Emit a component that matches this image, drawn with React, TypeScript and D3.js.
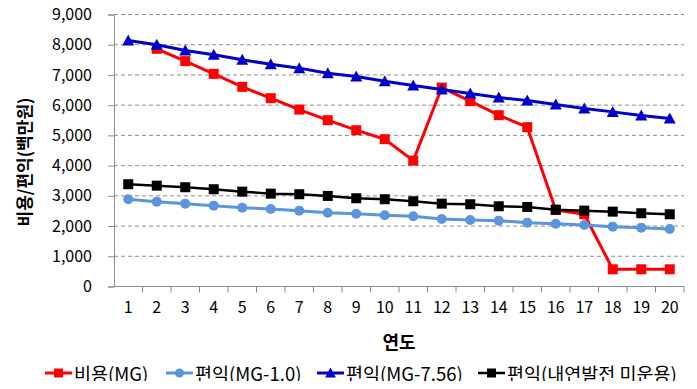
import { useEffect, useRef } from 'react';
import * as d3 from 'd3';

const years = d3.range(1, 21).map(String);
const yTicks = [0, 1000, 2000, 3000, 4000, 5000, 6000, 7000, 8000, 9000];

const costMG: (number | null)[] = [null, 7864, 7457, 7036, 6606, 6231, 5854, 5503, 5172, 4874, 4165, 6582, 6132, 5668, 5271, 2530, 2390, 570, 570, 570];
const benefitMG10 = [2887, 2808, 2742, 2675, 2609, 2566, 2510, 2443, 2410, 2357, 2324, 2235, 2202, 2179, 2113, 2079, 2036, 1980, 1947, 1904];
const benefitMG756 = [8138, 7996, 7807, 7665, 7500, 7357, 7225, 7059, 6946, 6794, 6648, 6516, 6384, 6251, 6152, 6019, 5887, 5778, 5655, 5556];
const benefitNoGen = [3384, 3337, 3285, 3218, 3139, 3073, 3053, 2997, 2920, 2887, 2821, 2742, 2722, 2655, 2632, 2543, 2510, 2477, 2424, 2390];

const series = [
  { name: '비용(MG)', values: costMG, color: '#ff0000', marker: 'square', width: 3 },
  { name: '편익(MG-1.0)', values: benefitMG10, color: '#5b95db', marker: 'circle', width: 3 },
  { name: '편익(MG-7.56)', values: benefitMG756, color: '#0000c8', marker: 'triangle', width: 3 },
  { name: '편익(내연발전 미운용)', values: benefitNoGen, color: '#000000', marker: 'square', width: 2.5 },
];

const legendX = [45, 166, 317, 478];

function App() {
  const svgRef = useRef<SVGSVGElement>(null);

  useEffect(() => {
    const width = 697;
    const height = 389;
    const margin = { top: 14.5, right: 13, bottom: 102.5, left: 114 };
    const font = '"Noto Sans CJK KR", "Noto Sans", sans-serif';

    const svg = d3.select(svgRef.current).attr('width', width).attr('height', height);
    svg.selectAll('*').remove();

    const x = d3.scaleBand().domain(years).range([margin.left, width - margin.right]);
    const y = d3.scaleLinear().domain([0, 9000]).range([height - margin.bottom, margin.top]);
    const cx = (d: string) => (x(d) as number) + x.bandwidth() / 2;

    // Grid
    svg.append('g')
      .selectAll('line')
      .data(yTicks.slice(1))
      .join('line')
      .attr('x1', margin.left)
      .attr('x2', width - margin.right)
      .attr('y1', d => y(d))
      .attr('y2', d => y(d))
      .attr('stroke', '#8c8c8c')
      .attr('stroke-width', 1)
      .attr('stroke-dasharray', '4,3');

    // Y axis
    const yAxis = svg.append('g')
      .attr('transform', `translate(${margin.left},0)`)
      .call(d3.axisLeft(y).tickValues(yTicks).tickSize(6).tickPadding(16).tickFormat(d3.format(',')));
    yAxis.selectAll('path, line').attr('stroke', '#8c8c8c');
    yAxis.selectAll('text')
      .attr('fill', '#000')
      .style('font-family', font)
      .style('font-size', '16px');

    // X axis
    const xAxis = svg.append('g')
      .attr('transform', `translate(0,${y(0)})`)
      .call(d3.axisBottom(x).tickSize(0).tickPadding(15));
    xAxis.select('path').attr('stroke', '#8c8c8c').attr('d', `M${margin.left},0H${width - margin.right}`);
    xAxis.selectAll('text')
      .attr('fill', '#000')
      .style('font-family', font)
      .style('font-size', '16px');
    xAxis.append('g')
      .selectAll('line')
      .data(years)
      .join('line')
      .attr('x1', d => (x(d) as number) + x.bandwidth())
      .attr('x2', d => (x(d) as number) + x.bandwidth())
      .attr('y1', 0)
      .attr('y2', 6)
      .attr('stroke', '#8c8c8c');

    // Axis titles
    svg.append('text')
      .attr('x', 399)
      .attr('y', 341)
      .attr('text-anchor', 'middle')
      .attr('dominant-baseline', 'central')
      .style('font-family', font)
      .style('font-size', '18px')
      .style('font-weight', 'bold')
      .text('연도');

    svg.append('text')
      .attr('transform', 'translate(23,162) rotate(-90)')
      .attr('text-anchor', 'middle')
      .attr('dominant-baseline', 'central')
      .style('font-family', font)
      .style('font-size', '17px')
      .style('font-weight', 'bold')
      .text('비용/편익(백만원)');

    const drawMarker = (g: any, type: string, color: string, px: number, py: number, s = 1) => {
      if (type === 'square') {
        g.append('rect')
          .attr('x', px - 5 * s).attr('y', py - 5 * s)
          .attr('width', 10 * s).attr('height', 10 * s)
          .attr('fill', color);
      } else if (type === 'circle') {
        g.append('circle').attr('cx', px).attr('cy', py).attr('r', 5 * s).attr('fill', color);
      } else {
        g.append('path')
          .attr('d', `M${px},${py - 6 * s}L${px + 6 * s},${py + 5 * s}L${px - 6 * s},${py + 5 * s}Z`)
          .attr('fill', color);
      }
    };

    // Series
    series.forEach(s => {
      const pts = years.map((yr, i) => ({ yr, v: s.values[i] }));
      const line = d3.line<{ yr: string; v: number | null }>()
        .defined(d => d.v != null)
        .x(d => cx(d.yr))
        .y(d => y(d.v as number));
      const g = svg.append('g');
      g.append('path')
        .datum(pts)
        .attr('fill', 'none')
        .attr('stroke', s.color)
        .attr('stroke-width', s.width)
        .attr('stroke-linejoin', 'round')
        .attr('d', line);
      pts.filter(d => d.v != null).forEach(d => drawMarker(g, s.marker, s.color, cx(d.yr), y(d.v as number)));
    });

    // Legend
    const ly = 373;
    series.forEach((s, i) => {
      const lx = legendX[i];
      const g = svg.append('g');
      g.append('line')
        .attr('x1', lx).attr('x2', lx + 27)
        .attr('y1', ly).attr('y2', ly)
        .attr('stroke', s.color).attr('stroke-width', s.width);
      drawMarker(g, s.marker, s.color, lx + 13.5, ly, 0.9);
      g.append('text')
        .attr('x', lx + 29)
        .attr('y', ly)
        .attr('dominant-baseline', 'central')
        .style('font-family', font)
        .style('font-size', '18.5px')
        .text(s.name);
    });
  }, []);

  return (
    <div style={{ margin: -8, width: 697, height: 389, background: '#fff' }}>
      <svg ref={svgRef} style={{ display: 'block' }}></svg>
    </div>
  );
}

export default App;
